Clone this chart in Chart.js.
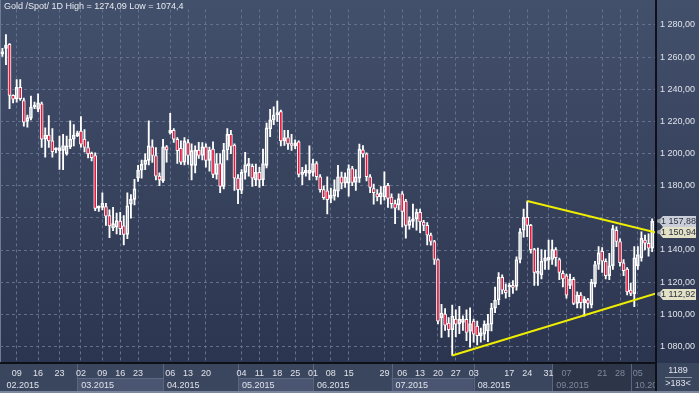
<!DOCTYPE html>
<html>
<head>
<meta charset="utf-8">
<script src="https://cdn.jsdelivr.net/npm/chart.js@4.4.1/dist/chart.umd.min.js"></script>
<style>
  html, body { margin: 0; padding: 0; background: #2e3852; }
  #chart { display: block; }
</style>
</head>
<body>
<canvas id="chart" width="699" height="393"></canvas>
<script>
// daily candles, 04.02.2015 .. 09.10.2015 (index = bar number)
const opens = [
  1262,1265.5,1268,1236.2,1234,1241.2,1233,1220,1222,1229,
  1227.7,1231,1209,1211.5,1208,1202.4,1201.8,1202,1200,1204.2,
  1209,1211,1214,1209,1203.8,1200.2,1198.8,1166,1166.5,1167,
  1161.4,1153.7,1154.3,1158,1155,1149.7,1168.5,1171.5,1184.7,1189.7,
  1193.3,1195.8,1204.2,1198.8,1186,1183.2,1204.2,1212.9,1214.4,1208.9,
  1203.2,1194.7,1206.8,1192.7,1192.7,1202.2,1198.8,1204.2,1195.8,1202.8,
  1187.1,1193.8,1179.6,1202.2,1211.9,1205.3,1184.7,1177,1188.3,1192.5,
  1192.1,1183.6,1188.3,1183.6,1192.7,1215.3,1221,1224.1,1226.1,1207.9,
  1210,1206,1204.8,1207.3,1187.1,1188,1187.7,1188.3,1193.8,1185.6,
  1177.6,1176.8,1172.1,1173.5,1176.6,1185.6,1181.6,1181.6,1190.7,1182,
  1184.7,1202.4,1199.8,1185.6,1178.2,1175,1173,1173,1180.2,1172.9,
  1168.9,1168,1175,1170.5,1155.3,1157.8,1159.4,1163.4,1157.4,1155.3,
  1149.3,1145.3,1134.1,1097.8,1100.2,1094.5,1090.5,1097,1094,1095,
  1096.8,1089.3,1095.8,1092.7,1086.7,1087.7,1089.6,1093.8,1103.8,1108.9,
  1123,1115,1117,1117.5,1117.4,1134.1,1152.3,1160.4,1155.3,1140.2,
  1125.5,1124.6,1133,1133.5,1134.1,1140.2,1134.1,1125.5,1124,1118,
  1121.8,1106.8,1111.9,1107.3,1109,1105.8,1119,1131,1139.2,1133,
  1124,1130.1,1152.3,1145.3,1132.1,1128.1,1115,1112.9,1130.1,1135.2,
  1146.2,1144.2,1141.2
];
const highs = [
  1265.5,1274.1,1268.5,1236.5,1246,1246,1234.5,1224,1235.8,1232,
  1237.2,1232,1216,1223.6,1215.6,1203.5,1210.9,1212,1210.9,1220.4,
  1218,1214,1223,1215,1207.3,1201,1200.5,1167.5,1175.6,1169,
  1165,1166.5,1163,1163.5,1161.4,1175.6,1174.5,1184,1192.7,1196,
  1199.8,1220.4,1208.5,1203.8,1188,1208.9,1205,1225,1215.5,1210,
  1208,1210,1208.7,1206,1204.8,1207,1206.8,1206,1204,1207.3,
  1200,1200,1206.4,1215.6,1214.5,1206,1187,1190,1200.8,1197,
  1193.5,1193.5,1191.5,1202.8,1219,1227.5,1229.1,1232.7,1227,1214.5,
  1214.5,1212,1208.5,1208,1191.5,1193,1204.8,1196.5,1195,1187,
  1180,1185.5,1178.6,1183.6,1192.7,1188.5,1188,1193,1192,1190,
  1205.9,1205,1200.5,1187,1181,1177.6,1179.5,1188.7,1181.5,1175,
  1171,1175,1176.4,1171.5,1160.6,1168.5,1165.5,1165.5,1158.5,1157,
  1150.5,1146,1134.5,1106.2,1103.6,1098,1105.8,1102.8,1105,1099,
  1102.8,1104,1097,1095.8,1091.5,1096,1100,1106.8,1117,1126,
  1124.5,1119,1119.5,1121,1135.7,1153.3,1165.5,1170.5,1156,1141,
  1141.2,1140.2,1140,1146.2,1146.2,1141.5,1135,1127,1125,1125,
  1123,1114,1113.5,1111,1110,1121.8,1133,1142.2,1141.5,1134.5,
  1138,1155.3,1154.4,1147,1134,1129,1119.2,1142.2,1142.2,1151.3,
  1149.3,1150,1159.4
];
const lows = [
  1260.4,1255.3,1228,1231.5,1232,1233,1217,1216.4,1221,1228,
  1226,1203.8,1197.8,1203.8,1197.8,1200.5,1190.1,1190,1199,1203,
  1204.8,1210.5,1204,1201,1197.3,1195.5,1164.5,1164,1165,1155.3,
  1147.7,1152,1150,1149.6,1143.2,1147,1159.8,1168,1182.6,1184.7,
  1190,1193,1194.5,1183.6,1180,1182,1194.7,1212,1207,1193.8,
  1193.2,1193,1193.3,1183.6,1188,1197,1196,1191.5,1189,1185,
  1184,1175.6,1178,1196,1200,1177,1168.9,1175,1184,1186,
  1179.6,1180,1179,1180,1191,1210.5,1218,1220,1204.8,1205,
  1202.6,1202,1203,1185.5,1180.6,1186,1183.6,1186,1183.6,1176,
  1171.5,1162.4,1169.5,1171,1173,1178,1179,1173.5,1180,1177,
  1182,1197.8,1183,1175.6,1168.5,1170.6,1168.5,1171,1166.5,1166,
  1156.4,1165,1154.4,1147.3,1153,1154,1152.3,1150.8,1152,1143.2,
  1143,1131.1,1094,1085.6,1090,1086,1074.4,1086,1088,1090,
  1083.6,1079.6,1082.6,1081,1082.6,1084,1083,1089.7,1101,1106,
  1112.7,1110,1111,1113,1115,1132,1148,1148.3,1138,1118,
  1118,1122,1128,1128,1131,1130,1121.6,1117,1110,1116,
  1106,1104,1103.8,1098.8,1104,1104,1117,1128,1126,1122,
  1121.5,1128,1142,1130,1124,1112,1111.6,1104.8,1128,1133,
  1140,1136.2,1139
];
const closes = [
  1263.5,1267.5,1236.2,1233.8,1241.2,1234.1,1219.5,1222.4,1229,1230,
  1231.5,1208.9,1211.5,1207.8,1201.2,1202.9,1203.8,1205,1204.8,1208.9,
  1211.5,1212.9,1205.9,1203.8,1199.8,1197.4,1165.9,1166.4,1169,1161,
  1155,1156.4,1158.3,1153.3,1149.7,1167.5,1171.5,1178,1189.7,1193.3,
  1195.8,1204.8,1198.8,1186,1183.6,1204.2,1202.2,1214.5,1208.9,1201.8,
  1194.7,1207.9,1198.8,1201.8,1202.2,1198.8,1204.2,1195.8,1202.2,1187.1,
  1193.8,1179.6,1202.2,1211.9,1204.4,1184.7,1177.6,1188.3,1193.2,1193.5,
  1184.7,1188.3,1183.6,1193.8,1216,1221,1224,1225.5,1207.9,1210,
  1206,1205,1206.7,1187.1,1188.3,1189.5,1189.7,1193.8,1185.6,1177.6,
  1172.5,1171.3,1174.1,1177.6,1185.6,1181.6,1185.6,1190.7,1182,1185.6,
  1202.8,1199.8,1185.6,1179,1175.6,1173,1175.6,1179.6,1172.1,1168.9,
  1166,1172,1164,1155.3,1158.3,1159.4,1163.4,1157.4,1155.3,1149.3,
  1145.3,1134.1,1095.8,1100.8,1093.3,1090.5,1098.8,1093.8,1097,1097,
  1088.7,1094.3,1087.7,1086.7,1088.7,1093.8,1094.2,1103.8,1108.9,1123,
  1115,1113.5,1118,1116.8,1134.1,1151.3,1160.4,1155.3,1140.2,1126.1,
  1126.5,1133,1135.1,1135.5,1140.2,1135.2,1126.1,1122,1111.9,1121.9,
  1106.8,1111.9,1107.3,1109.4,1106.8,1120,1131,1138.2,1133,1124,
  1130.1,1153.3,1145.3,1132.1,1127.1,1114,1113,1135.2,1137.2,1147.3,
  1144.2,1141.2,1157.88
];

// x axis: monday ticks and month starts (bar index)
const dayTickIdx = [4,10,16,22,28,33,38,47,52,57,67,72,77,82,87,92,97,107,112,117,122,127,132,142,147,153,158,168,173,178];
const dayTickText = ['09','16','23','02','09','16','23','06','13','20','04','11','18','25','01','08','15','29','06','13','20','27','03','17','24','31','07','21','28','05'];
const monthIdx = [0,21,45,66,87,109,132,154,176];
const monthText = ['02.2015','03.2015','04.2015','05.2015','06.2015','07.2015','08.2015','09.2015','10.2015'];

// price axis ticks
const priceTicks = [1080,1100,1120,1140,1160,1180,1200,1220,1240,1260,1280];

// drawn trend lines
const upperTrendX = [147, 183.08];
const upperTrendY = [1170.5, 1150.94];
const lowerTrendX = [126, 183.08];
const lowerTrendY = [1074.4, 1112.92];

const titleText = 'Gold /Spot/ 1D High = 1274,09 Low = 1074,4';
const barsInfo = ['1189', '>183<'];

const FONT = "'Liberation Sans', Arial, sans-serif";
const RED = '#e8173e';
const GRID = '#63718f';
const DIM_FROM = 154;

function fmtPrice(v) {
  const s = v.toFixed(2).replace('.', ',');
  const [int, dec] = s.split(',');
  return int.replace(/\B(?=(\d{3})+(?!\d))/g, ' ') + ',' + dec;
}

const idx = closes.map((_, i) => i);

const bgPlugin = {
  id: 'bg',
  beforeDraw(chart) {
    const { ctx, chartArea: a, scales: { x } } = chart;
    const W = chart.width, H = chart.height;
    ctx.save();
    const g = ctx.createLinearGradient(0, 0, 0, a.bottom);
    g.addColorStop(0, '#43506c');
    g.addColorStop(1, '#2c354f');
    ctx.fillStyle = g;
    ctx.fillRect(0, 0, W, a.bottom);

    // bottom axis strip
    ctx.fillStyle = '#3a455e';
    ctx.fillRect(0, a.bottom, a.right, H - a.bottom);
    const rowY = a.bottom + 15;
    for (let m = 0; m < monthIdx.length; m++) {
      const x0 = m === 0 ? 0 : x.getPixelForValue(monthIdx[m]);
      const x1 = m + 1 < monthIdx.length ? x.getPixelForValue(monthIdx[m + 1]) : a.right;
      if (monthIdx[m] >= DIM_FROM) {
        ctx.fillStyle = '#2d3549';
        ctx.fillRect(x0, a.bottom, x1 - x0, H - a.bottom);
      } else if (m % 2 === 1) {
        ctx.fillStyle = '#4a5571';
        ctx.fillRect(x0, rowY, x1 - x0, H - rowY);
        ctx.fillStyle = '#5d6883';
        ctx.fillRect(x0, rowY, x1 - x0, 1);
      }
      if (m > 0) {
        ctx.fillStyle = '#5a6580';
        ctx.fillRect(Math.round(x0), a.bottom, 1, H - a.bottom);
      }
    }
    ctx.fillStyle = '#7c879d';
    ctx.fillRect(0, H - 2, W, 2);
    ctx.fillStyle = '#6f7b94';
    ctx.fillRect(0, 0, 1, a.bottom);
    ctx.restore();
  },
  afterDraw(chart) {
    const { ctx, chartArea: a, scales: { y } } = chart;
    const W = chart.width, H = chart.height;
    ctx.save();
    // corner box under price axis
    ctx.fillStyle = '#3a455e';
    ctx.fillRect(a.right, a.bottom, W - a.right, H - a.bottom - 2);
    ctx.fillStyle = '#0e1118';
    ctx.fillRect(a.right - 1, 0, 2, H - 2);
    ctx.fillStyle = '#dfe3ea';
    ctx.font = '9px ' + FONT;
    ctx.textAlign = 'center';
    ctx.textBaseline = 'middle';
    ctx.fillText(barsInfo[0], a.right + 22, a.bottom + 8);
    ctx.fillText(barsInfo[1], a.right + 22, a.bottom + 21);
    ctx.fillStyle = '#8b95a8';
    ctx.fillRect(a.right + 9, a.bottom + 14, 27, 1);

    // price tags
    const tags = [
      { v: closes[closes.length - 1], bg: '#c9ced8' },
      { v: upperTrendY[1], bg: '#e4e2c6' },
      { v: lowerTrendY[1], bg: '#e4e2c6' }
    ];
    tags.forEach(t => {
      const py = Math.round(y.getPixelForValue(t.v));
      ctx.fillStyle = t.bg;
      ctx.beginPath();
      ctx.moveTo(a.right + 2, py);
      ctx.lineTo(a.right + 7, py - 5);
      ctx.lineTo(W - 3, py - 5);
      ctx.lineTo(W - 3, py + 6);
      ctx.lineTo(a.right + 7, py + 6);
      ctx.closePath();
      ctx.fill();
      ctx.fillStyle = '#9aa0aa';
      ctx.beginPath();
      ctx.arc(a.right + 3, py, 2, 0, Math.PI * 2);
      ctx.fill();
      ctx.fillStyle = '#2a3040';
      ctx.textAlign = 'left';
      ctx.textBaseline = 'middle';
      ctx.fillText(fmtPrice(t.v), a.right + 5, py + 1);
    });

    // title
    ctx.fillStyle = '#e6eaf0';
    ctx.textAlign = 'left';
    ctx.textBaseline = 'top';
    ctx.fillText(titleText, 4, 2);
    ctx.restore();
  }
};

const ctx = document.getElementById('chart');

new Chart(ctx, {
  type: 'bar',
  data: {
    datasets: [
      {
        type: 'line',
        data: upperTrendX.map((v, i) => ({ x: v, y: upperTrendY[i] })),
        borderColor: '#f0ee00',
        borderWidth: 2,
        pointRadius: 0,
        order: 0
      },
      {
        type: 'line',
        data: lowerTrendX.map((v, i) => ({ x: v, y: lowerTrendY[i] })),
        borderColor: '#f0ee00',
        borderWidth: 2,
        pointRadius: 0,
        order: 0
      },
      {
        data: idx.map(i => ({ x: i, y: [opens[i], closes[i]] })),
        backgroundColor: idx.map(i => closes[i] < opens[i] ? RED : 'rgba(0,0,0,0)'),
        borderColor: '#ffffff',
        borderWidth: 1,
        borderSkipped: false,
        barThickness: 3,
        minBarLength: 2,
        grouped: false,
        order: 1
      },
      {
        data: idx.map(i => ({ x: i, y: [Math.max(opens[i], closes[i]), highs[i]] })),
        backgroundColor: '#ffffff',
        borderWidth: 0,
        barThickness: 1.2,
        grouped: false,
        order: 2
      },
      {
        data: idx.map(i => ({ x: i, y: [lows[i], Math.min(opens[i], closes[i])] })),
        backgroundColor: '#ffffff',
        borderWidth: 0,
        barThickness: 1.2,
        grouped: false,
        order: 2
      }
    ]
  },
  options: {
    responsive: false,
    animation: false,
    devicePixelRatio: 1,
    layout: { padding: 0 },
    plugins: {
      legend: { display: false },
      tooltip: { enabled: false }
    },
    scales: {
      x: {
        type: 'linear',
        position: 'bottom',
        min: -0.67,
        max: 183.08,
        offset: false,
        weight: 0,
        afterFit: axis => { axis.height = 15; },
        afterBuildTicks: axis => { axis.ticks = dayTickIdx.map(v => ({ value: v })); },
        grid: {
          offset: false,
          color: GRID,
          lineWidth: 1,
          drawTicks: false
        },
        border: { display: true, color: '#0e1118', width: 2, dash: [3, 3] },
        ticks: {
          autoSkip: false,
          maxRotation: 0,
          padding: 5,
          font: { family: FONT, size: 9 },
          color: c => (c.tick && c.tick.value >= DIM_FROM) ? '#7d889e' : '#dfe3ea',
          callback: v => {
            const k = dayTickIdx.indexOf(v);
            return k >= 0 ? dayTickText[k] : '';
          }
        }
      },
      x2: {
        type: 'linear',
        position: 'bottom',
        min: -0.67,
        max: 183.08,
        offset: false,
        weight: 1,
        afterFit: axis => { axis.height = 15; },
        afterBuildTicks: axis => { axis.ticks = monthIdx.map(v => ({ value: v })); },
        grid: { display: false, drawTicks: false },
        border: { display: false },
        ticks: {
          autoSkip: false,
          maxRotation: 0,
          align: 'start',
          labelOffset: 4,
          padding: 2,
          font: { family: FONT, size: 9 },
          color: c => (c.tick && c.tick.value >= DIM_FROM) ? '#7d889e' : '#dfe3ea',
          callback: v => {
            const k = monthIdx.indexOf(v);
            return k >= 0 ? monthText[k] : '';
          }
        }
      },
      y: {
        type: 'linear',
        position: 'right',
        min: 1069.7,
        max: 1289.7,
        beginAtZero: false,
        afterFit: axis => { axis.width = 43; },
        afterBuildTicks: axis => { axis.ticks = priceTicks.map(v => ({ value: v })); },
        grid: {
          color: GRID,
          lineWidth: 1,
          drawTicks: false
        },
        border: { display: false, dash: [3, 3] },
        ticks: {
          padding: 4,
          font: { family: FONT, size: 9 },
          color: '#dfe3ea',
          callback: v => v === 1160 ? '' : fmtPrice(v)
        }
      }
    }
  },
  plugins: [bgPlugin]
});
</script>
</body>
</html>
